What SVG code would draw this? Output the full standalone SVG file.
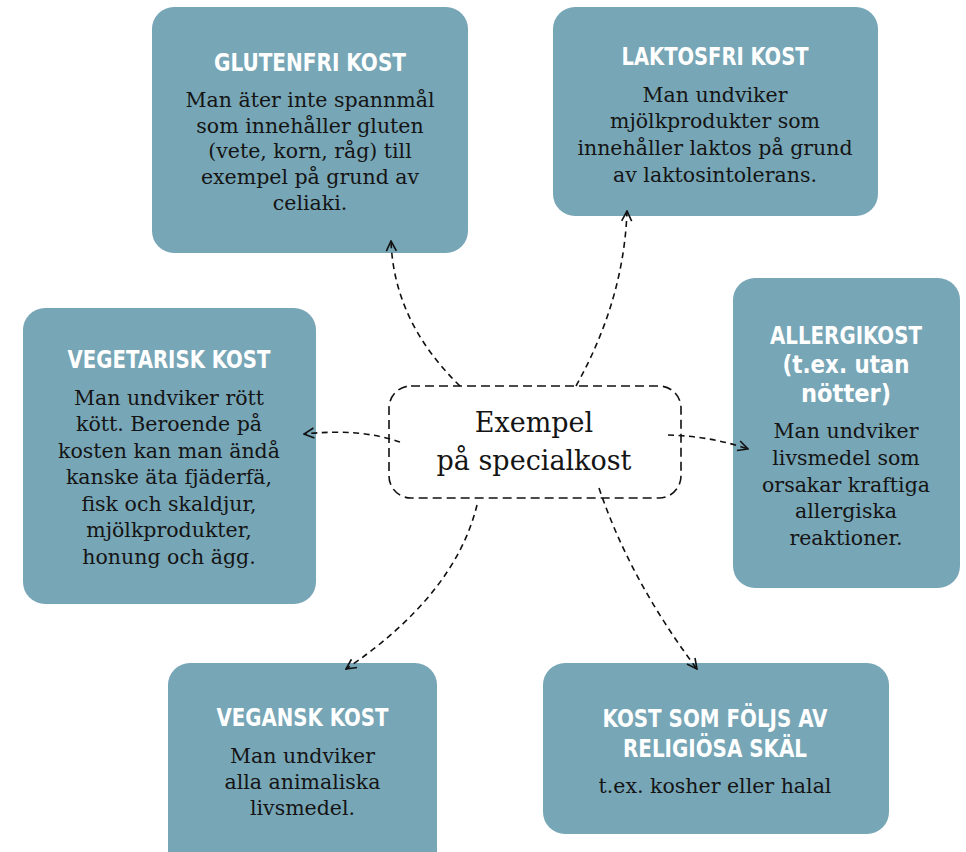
<svg xmlns="http://www.w3.org/2000/svg" width="966" height="852" viewBox="0 0 966 852">
<style>
.box{fill:#77a6b6}
.h{font-family:"Liberation Sans Narrow","DejaVu Sans Condensed","Liberation Sans",sans-serif;font-weight:bold;font-size:25px;fill:#fff;text-anchor:middle}
.b{font-family:"DejaVu Serif","Liberation Serif",serif;font-size:20.5px;fill:#141414;text-anchor:middle}
.c{font-family:"DejaVu Serif","Liberation Serif",serif;font-size:27px;fill:#141414;text-anchor:middle}
.con{fill:none;stroke:#111;stroke-width:1.6;stroke-dasharray:6 4.5}
</style>
<defs>
<marker id="ah" viewBox="0 0 12 12" refX="11" refY="6" markerWidth="12" markerHeight="12" markerUnits="userSpaceOnUse" orient="auto">
<path d="M1 1 L11 6 L1 11" fill="none" stroke="#111" stroke-width="1.6"/>
</marker>
</defs>
<rect width="966" height="852" fill="#fff"/>

<g id="glutenfri">
<rect class="box" x="152" y="7" width="316" height="246" rx="22"/>
<text class="h" x="310" y="71" textLength="192" lengthAdjust="spacingAndGlyphs">GLUTENFRI KOST</text>
<text class="b" x="310" y="107">Man äter inte spannmål</text>
<text class="b" x="310" y="133">som innehåller gluten</text>
<text class="b" x="310" y="158">(vete, korn, råg) till</text>
<text class="b" x="310" y="184">exempel på grund av</text>
<text class="b" x="310" y="210">celiaki.</text>
</g>

<g id="laktosfri">
<rect class="box" x="553" y="7" width="325" height="209" rx="22"/>
<text class="h" x="715" y="65" textLength="187" lengthAdjust="spacingAndGlyphs">LAKTOSFRI KOST</text>
<text class="b" x="715" y="102">Man undviker</text>
<text class="b" x="715" y="128">mjölkprodukter som</text>
<text class="b" x="715" y="155">innehåller laktos på grund</text>
<text class="b" x="715" y="182">av laktosintolerans.</text>
</g>

<g id="allergikost">
<rect class="box" x="733" y="278" width="227" height="310" rx="22"/>
<text class="h" x="846" y="344" textLength="152" lengthAdjust="spacingAndGlyphs">ALLERGIKOST</text>
<text class="h" x="846" y="373" textLength="127" lengthAdjust="spacingAndGlyphs">(t.ex. utan</text>
<text class="h" x="846" y="402" textLength="90" lengthAdjust="spacingAndGlyphs">nötter)</text>
<text class="b" x="846" y="438">Man undviker</text>
<text class="b" x="846" y="465">livsmedel som</text>
<text class="b" x="846" y="492">orsakar kraftiga</text>
<text class="b" x="846" y="518">allergiska</text>
<text class="b" x="846" y="545">reaktioner.</text>
</g>

<g id="vegetarisk">
<rect class="box" x="23" y="308" width="293" height="296" rx="22"/>
<text class="h" x="169" y="368" textLength="203" lengthAdjust="spacingAndGlyphs">VEGETARISK KOST</text>
<text class="b" x="169" y="405">Man undviker rött</text>
<text class="b" x="169" y="431">kött. Beroende på</text>
<text class="b" x="169" y="458">kosten kan man ändå</text>
<text class="b" x="169" y="484">kanske äta fjäderfä,</text>
<text class="b" x="169" y="511">fisk och skaldjur,</text>
<text class="b" x="169" y="537">mjölkprodukter,</text>
<text class="b" x="169" y="564">honung och ägg.</text>
</g>

<g id="vegansk">
<rect class="box" x="168" y="663" width="269" height="220" rx="22"/>
<text class="h" x="302.5" y="726" textLength="172" lengthAdjust="spacingAndGlyphs">VEGANSK KOST</text>
<text class="b" x="302.5" y="763">Man undviker</text>
<text class="b" x="302.5" y="789">alla animaliska</text>
<text class="b" x="302.5" y="815">livsmedel.</text>
</g>

<g id="religios">
<rect class="box" x="543" y="663" width="346" height="171" rx="22"/>
<text class="h" x="715" y="727" textLength="225" lengthAdjust="spacingAndGlyphs">KOST SOM FÖLJS AV</text>
<text class="h" x="715" y="757" textLength="184" lengthAdjust="spacingAndGlyphs">RELIGIÖSA SKÄL</text>
<text class="b" x="715" y="793">t.ex. kosher eller halal</text>
</g>

<g id="center">
<rect x="389" y="386" width="292" height="112" rx="22" fill="#fff" stroke="#111" stroke-width="1.6" stroke-dasharray="9 5"/>
<text class="c" x="534" y="432">Exempel</text>
<text class="c" x="534" y="470">på specialkost</text>
</g>

<g id="connectors">
<path class="con" d="M460 386 Q394 322 391 241" marker-end="url(#ah)"/>
<path class="con" d="M576 386 Q624 300 627 211" marker-end="url(#ah)"/>
<path class="con" d="M400 442 Q360 428 304 434" marker-end="url(#ah)"/>
<path class="con" d="M668 435 Q710 436 748 449" marker-end="url(#ah)"/>
<path class="con" d="M477 505 Q455 595 346 669" marker-end="url(#ah)"/>
<path class="con" d="M599 488 Q630 580 697 669" marker-end="url(#ah)"/>
</g>
</svg>
